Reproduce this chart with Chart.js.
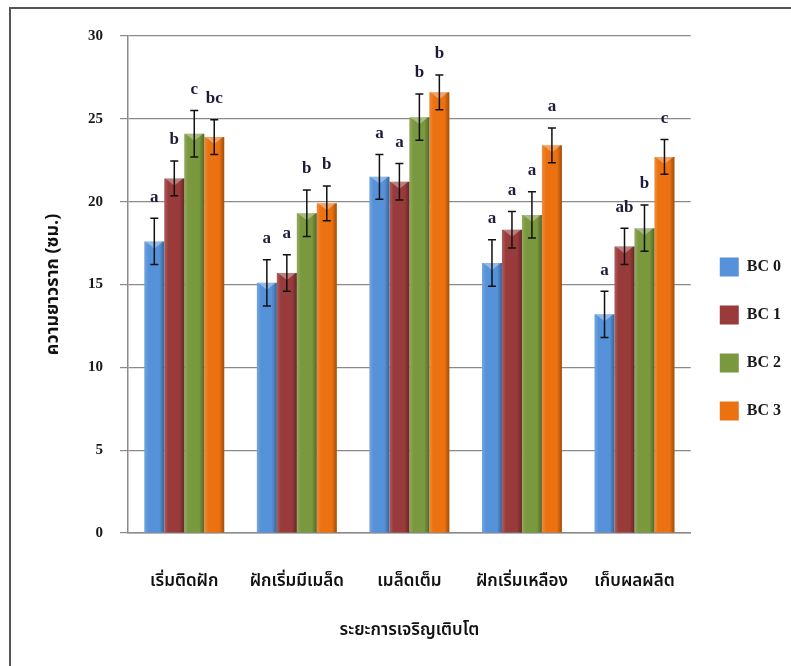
<!DOCTYPE html>
<html lang="th">
<head>
<meta charset="utf-8">
<title>ความยาวราก</title>
<script src="https://cdn.jsdelivr.net/npm/chart.js@4.4.1/dist/chart.umd.min.js"></script>
<style>
  html, body { margin: 0; padding: 0; background: #ffffff; overflow: hidden; }
  #wrap { position: relative; width: 791px; height: 666px; }
  #frame { position: absolute; left: 9px; top: 7px; width: 900px; height: 800px;
           border: 2px solid #555555; box-sizing: border-box; }
  #chart { position: absolute; left: 0; top: 0; }
</style>
</head>
<body>
<div id="wrap">
  <div id="frame"></div>
  <canvas id="chart" width="791" height="666"></canvas>
</div>
<script>
// Growth stages (x categories)
const stages = ['เริ่มติดฝัก', 'ฝักเริ่มมีเมล็ด', 'เมล็ดเต็ม', 'ฝักเริ่มเหลือง', 'เก็บผลผลิต'];

// Series names
const seriesNames = ['BC 0', 'BC 1', 'BC 2', 'BC 3'];

// Mean root length (cm) per treatment
const bc0 = [17.6, 15.1, 21.5, 16.3, 13.2];
const bc1 = [21.4, 15.7, 21.2, 18.3, 17.3];
const bc2 = [24.1, 19.3, 25.1, 19.2, 18.4];
const bc3 = [23.9, 19.9, 26.6, 23.4, 22.7];

// Error (± SE) per treatment
const err0 = [1.4, 1.4, 1.35, 1.4, 1.4];
const err1 = [1.05, 1.1, 1.1, 1.1, 1.1];
const err2 = [1.4, 1.4, 1.4, 1.4, 1.4];
const err3 = [1.05, 1.05, 1.05, 1.05, 1.05];

// Significance letters per treatment
const sig0 = ['a', 'a', 'a', 'a', 'a'];
const sig1 = ['b', 'a', 'a', 'a', 'ab'];
const sig2 = ['c', 'b', 'b', 'a', 'b'];
const sig3 = ['bc', 'b', 'b', 'a', 'c'];

// Y axis ticks
const yMin = 0, yMax = 30, yStep = 5;

const values = [bc0, bc1, bc2, bc3];
const errors = [err0, err1, err2, err3];
const letters = [sig0, sig1, sig2, sig3];
const colors = ['#5692d9', '#993b3a', '#7a983e', '#ec7211'];

const thaiFont = "Tahoma, 'Noto Sans Thai', 'Noto Serif Thai', 'Leelawadee UI', sans-serif";
const serifFont = "'Liberation Serif', 'Times New Roman', serif";

// Shading, error bars and letters on top of each bar
const barDecor = {
  id: 'barDecor',
  afterDatasetsDraw(chart) {
    const ctx = chart.ctx;
    const y = chart.scales.y;
    chart.data.datasets.forEach((ds, di) => {
      const meta = chart.getDatasetMeta(di);
      if (meta.hidden) return;
      meta.data.forEach((bar, i) => {
        const w = bar.width;
        const left = bar.x - w / 2, right = bar.x + w / 2;
        const top = bar.y, base = bar.base;
        ctx.save();
        // side shading
        const g = ctx.createLinearGradient(left, 0, right, 0);
        g.addColorStop(0, 'rgba(255,255,255,0.18)');
        g.addColorStop(0.2, 'rgba(255,255,255,0)');
        g.addColorStop(0.75, 'rgba(0,0,0,0)');
        g.addColorStop(1, 'rgba(0,0,0,0.32)');
        ctx.fillStyle = g;
        ctx.fillRect(left, top, w, base - top);
        // top bevel
        ctx.beginPath();
        ctx.moveTo(left + 1, top);
        ctx.lineTo(right - 1, top);
        ctx.lineTo(bar.x, top + 7);
        ctx.closePath();
        ctx.fillStyle = 'rgba(255,255,255,0.35)';
        ctx.fill();
        ctx.restore();
      });
    });
    // error bars and letters
    chart.data.datasets.forEach((ds, di) => {
      const meta = chart.getDatasetMeta(di);
      if (meta.hidden) return;
      meta.data.forEach((bar, i) => {
        const v = values[di][i], e = errors[di][i];
        const yTop = y.getPixelForValue(v + e);
        const yBot = y.getPixelForValue(v - e);
        const x = bar.x;
        ctx.save();
        ctx.strokeStyle = '#111111';
        ctx.lineWidth = 1.5;
        ctx.beginPath();
        ctx.moveTo(x, yTop); ctx.lineTo(x, yBot);
        ctx.moveTo(x - 4, yTop); ctx.lineTo(x + 4, yTop);
        ctx.moveTo(x - 4, yBot); ctx.lineTo(x + 4, yBot);
        ctx.stroke();
        ctx.fillStyle = '#1c1c3a';
        ctx.font = "bold 17px " + serifFont;
        ctx.textAlign = 'center';
        ctx.textBaseline = 'middle';
        ctx.fillText(letters[di][i], x, yTop - 21);
        ctx.restore();
      });
    });
  }
};

new Chart(document.getElementById('chart'), {
  type: 'bar',
  data: {
    labels: stages,
    datasets: seriesNames.map((name, k) => ({
      label: name,
      data: values[k],
      backgroundColor: colors[k],
      borderWidth: 0,
      barPercentage: 1.0,
      categoryPercentage: 0.71
    }))
  },
  options: {
    responsive: false,
    animation: false,
    layout: { padding: { left: 0, top: 36, right: 0, bottom: 24 } },
    plugins: {
      tooltip: { enabled: false },
      legend: {
        position: 'right',
        labels: {
          boxWidth: 19,
          boxHeight: 19,
          padding: 29,
          color: '#1a1a1a',
          font: { family: serifFont, size: 16, weight: 'bold' }
        }
      }
    },
    scales: {
      x: {
        offset: true,
        grid: { display: false, drawTicks: false },
        border: { display: true, color: '#8a8a8a', width: 1.5 },
        ticks: {
          padding: 39,
          color: '#111111',
          font: { family: thaiFont, size: 17, weight: '600' }
        },
        title: {
          display: true,
          text: 'ระยะการเจริญเติบโต',
          color: '#111111',
          font: { family: thaiFont, size: 17, weight: '600' },
          padding: { top: 0, bottom: 0 }
        },
        afterFit(scale) { scale.height = 109; }
      },
      y: {
        min: yMin,
        max: yMax,
        ticks: {
          stepSize: yStep,
          padding: 17,
          color: '#1a1a1a',
          font: { family: serifFont, size: 15, weight: 'bold' }
        },
        grid: { color: '#8a8a8a', lineWidth: 1.2, tickLength: 8 },
        border: { display: true, color: '#8a8a8a', width: 1.5 },
        title: {
          display: true,
          text: 'ความยาวราก (ซม.)',
          color: '#111111',
          font: { family: thaiFont, size: 18, weight: 'bold' },
          padding: { top: 44, bottom: 0 }
        },
        afterFit(scale) { scale.width = 128; }
      }
    }
  },
  plugins: [barDecor]
});
</script>
</body>
</html>
